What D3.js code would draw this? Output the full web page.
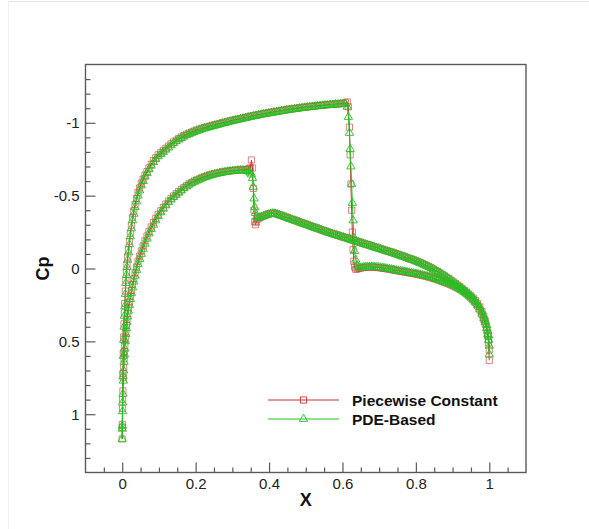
<!DOCTYPE html>
<html>
<head>
<meta charset="utf-8">
<script src="https://cdn.jsdelivr.net/npm/d3@7"></script>
<style>
  html, body { margin: 0; padding: 0; background: #ffffff; }
  svg { display: block; }
</style>
</head>
<body>
<svg id="chart" width="589" height="529"></svg>
<script>
// ---------------- DATA ----------------
const seriesNames = ["Piecewise Constant", "PDE-Based"];
const xTicks = [0, 0.2, 0.4, 0.6, 0.8, 1];
const yTicks = [-1, -0.5, 0, 0.5, 1];

// Surface A (suction side, shock near x = 0.62)
const xA = [
  0, 0.0003, 0.001, 0.002, 0.003, 0.004, 0.005, 0.006, 0.007, 0.0085,
  0.01, 0.0115, 0.013, 0.015, 0.017, 0.0195, 0.022, 0.025, 0.028, 0.0315,
  0.035, 0.039, 0.043, 0.0475, 0.052, 0.057, 0.062, 0.0675, 0.073, 0.079,
  0.085, 0.0915, 0.098, 0.105, 0.112, 0.119, 0.126, 0.133, 0.14, 0.147,
  0.154, 0.161, 0.168, 0.175, 0.182, 0.189, 0.196, 0.203, 0.21, 0.217,
  0.224, 0.231, 0.238, 0.245, 0.252, 0.259, 0.266, 0.273, 0.28, 0.287,
  0.294, 0.301, 0.308, 0.315, 0.322, 0.329, 0.336, 0.343, 0.35, 0.357,
  0.364, 0.371, 0.378, 0.385, 0.392, 0.399, 0.406, 0.413, 0.42, 0.427,
  0.434, 0.441, 0.448, 0.455, 0.462, 0.469, 0.476, 0.483, 0.49, 0.497,
  0.504, 0.511, 0.518, 0.525, 0.532, 0.539, 0.546, 0.553, 0.56, 0.567,
  0.574, 0.581, 0.588, 0.595, 0.602, 0.608, 0.613, 0.616, 0.619, 0.621,
  0.623, 0.625, 0.627, 0.629, 0.631, 0.633, 0.636, 0.64, 0.645, 0.65,
  0.656, 0.662, 0.668, 0.674, 0.68, 0.686, 0.692, 0.698, 0.704, 0.71,
  0.716, 0.722, 0.728, 0.734, 0.74, 0.746, 0.752, 0.758, 0.764, 0.77,
  0.776, 0.782, 0.788, 0.794, 0.80, 0.806, 0.812, 0.818, 0.824, 0.83,
  0.836, 0.842, 0.848, 0.854, 0.86, 0.866, 0.872, 0.878, 0.884, 0.89,
  0.896, 0.902, 0.908, 0.914, 0.92, 0.926, 0.932, 0.938, 0.944, 0.95,
  0.956, 0.962, 0.968, 0.974, 0.98, 0.985, 0.989, 0.993, 0.996, 0.998,
  1.0];
const cpA_pwc = [
  1.17, 1.07, 0.90, 0.72, 0.58, 0.47, 0.38, 0.305, 0.24, 0.155,
  0.08, 0.025, -0.03, -0.08, -0.13, -0.185, -0.24, -0.295, -0.35, -0.395,
  -0.44, -0.48, -0.52, -0.553, -0.585, -0.613, -0.64, -0.665, -0.69, -0.715,
  -0.74, -0.76, -0.78, -0.795, -0.81, -0.825, -0.84, -0.855, -0.868, -0.88,
  -0.892, -0.902, -0.912, -0.921, -0.929, -0.936, -0.943, -0.95, -0.956, -0.962,
  -0.967, -0.972, -0.977, -0.982, -0.986, -0.991, -0.995, -1.0, -1.004, -1.009,
  -1.013, -1.018, -1.021, -1.025, -1.029, -1.033, -1.037, -1.041, -1.045, -1.049,
  -1.052, -1.056, -1.059, -1.063, -1.066, -1.069, -1.072, -1.075, -1.078, -1.081,
  -1.084, -1.087, -1.09, -1.093, -1.095, -1.098, -1.1, -1.103, -1.105, -1.107,
  -1.109, -1.111, -1.113, -1.115, -1.117, -1.119, -1.121, -1.123, -1.124, -1.126,
  -1.127, -1.129, -1.13, -1.131, -1.133, -1.137, -1.143, -1.11, -0.97, -0.78,
  -0.58, -0.40, -0.25, -0.13, -0.05, -0.01, 0.005, 0.003, 0.0, -0.003,
  -0.006, -0.008, -0.01, -0.01, -0.01, -0.009, -0.008, -0.006, -0.004, -0.002,
  0.0, 0.003, 0.005, 0.008, 0.011, 0.014, 0.017, 0.019, 0.022, 0.024,
  0.027, 0.03, 0.032, 0.035, 0.038, 0.041, 0.044, 0.048, 0.051, 0.055,
  0.059, 0.063, 0.068, 0.073, 0.078, 0.083, 0.089, 0.094, 0.1, 0.106,
  0.112, 0.119, 0.126, 0.134, 0.143, 0.152, 0.162, 0.174, 0.187, 0.201,
  0.216, 0.234, 0.256, 0.282, 0.315, 0.347, 0.38, 0.42, 0.465, 0.51,
  0.63];
const cpA_pde = [
  1.17, 1.08, 0.92, 0.74, 0.60, 0.49, 0.40, 0.325, 0.26, 0.175,
  0.10, 0.045, -0.01, -0.06, -0.11, -0.165, -0.22, -0.275, -0.33, -0.375,
  -0.42, -0.46, -0.50, -0.535, -0.57, -0.60, -0.63, -0.655, -0.68, -0.705,
  -0.73, -0.75, -0.77, -0.785, -0.80, -0.815, -0.83, -0.845, -0.86, -0.873,
  -0.885, -0.895, -0.905, -0.914, -0.922, -0.93, -0.937, -0.944, -0.95, -0.956,
  -0.961, -0.966, -0.971, -0.976, -0.98, -0.985, -0.99, -0.995, -0.999, -1.004,
  -1.008, -1.013, -1.017, -1.021, -1.025, -1.029, -1.033, -1.037, -1.041, -1.045,
  -1.048, -1.052, -1.055, -1.059, -1.062, -1.065, -1.068, -1.071, -1.074, -1.077,
  -1.08, -1.083, -1.086, -1.089, -1.091, -1.094, -1.096, -1.099, -1.101, -1.104,
  -1.106, -1.108, -1.11, -1.112, -1.114, -1.116, -1.118, -1.12, -1.121, -1.123,
  -1.124, -1.126, -1.127, -1.128, -1.129, -1.13, -1.11, -1.04, -0.93, -0.82,
  -0.70, -0.58, -0.45, -0.33, -0.21, -0.12, -0.06, -0.02, -0.005, -0.005,
  -0.008, -0.01, -0.012, -0.012, -0.012, -0.011, -0.01, -0.008, -0.006, -0.004,
  -0.002, 0.001, 0.003, 0.006, 0.009, 0.012, 0.015, 0.017, 0.02, 0.022,
  0.025, 0.028, 0.03, 0.033, 0.036, 0.039, 0.042, 0.046, 0.049, 0.053,
  0.057, 0.061, 0.066, 0.071, 0.076, 0.081, 0.087, 0.092, 0.098, 0.104,
  0.11, 0.117, 0.124, 0.132, 0.141, 0.15, 0.16, 0.172, 0.184, 0.198,
  0.213, 0.231, 0.252, 0.277, 0.31, 0.34, 0.37, 0.41, 0.45, 0.49,
  0.59];

// Surface B (second branch, shock near x = 0.36)
const xB = [
  0, 0.0003, 0.001, 0.002, 0.003, 0.004, 0.005, 0.006, 0.007, 0.0085,
  0.01, 0.0115, 0.013, 0.015, 0.017, 0.0195, 0.022, 0.025, 0.028, 0.0315,
  0.035, 0.039, 0.043, 0.0475, 0.052, 0.057, 0.062, 0.0675, 0.073, 0.079,
  0.085, 0.0915, 0.098, 0.105, 0.112, 0.119, 0.126, 0.133, 0.14, 0.147,
  0.154, 0.161, 0.168, 0.175, 0.182, 0.189, 0.196, 0.203, 0.21, 0.217,
  0.224, 0.231, 0.238, 0.245, 0.252, 0.259, 0.266, 0.273, 0.28, 0.287,
  0.294, 0.301, 0.308, 0.315, 0.322, 0.329, 0.336, 0.341, 0.345, 0.349,
  0.352, 0.355, 0.357, 0.359, 0.361, 0.363, 0.366, 0.37, 0.375, 0.38,
  0.386, 0.392, 0.398, 0.404, 0.41, 0.416, 0.422, 0.428, 0.434, 0.44,
  0.446, 0.452, 0.458, 0.464, 0.47, 0.476, 0.482, 0.488, 0.494, 0.50,
  0.506, 0.512, 0.518, 0.524, 0.53, 0.536, 0.542, 0.548, 0.554, 0.56,
  0.566, 0.572, 0.578, 0.584, 0.59, 0.596, 0.602, 0.608, 0.614, 0.62,
  0.626, 0.632, 0.638, 0.644, 0.65, 0.656, 0.662, 0.668, 0.674, 0.68,
  0.686, 0.692, 0.698, 0.704, 0.71, 0.716, 0.722, 0.728, 0.734, 0.74,
  0.746, 0.752, 0.758, 0.764, 0.77, 0.776, 0.782, 0.788, 0.794, 0.80,
  0.806, 0.812, 0.818, 0.824, 0.83, 0.836, 0.842, 0.848, 0.854, 0.86,
  0.866, 0.872, 0.878, 0.884, 0.89, 0.896, 0.902, 0.908, 0.914, 0.92,
  0.926, 0.932, 0.938, 0.944, 0.95, 0.956, 0.962, 0.968, 0.974, 0.98,
  0.985, 0.989, 0.993, 0.996, 0.998, 1.0];
const cpB_pwc = [
  1.17, 1.09, 0.96, 0.84, 0.75, 0.68, 0.62, 0.57, 0.53, 0.48,
  0.43, 0.39, 0.35, 0.31, 0.27, 0.23, 0.19, 0.15, 0.11, 0.07,
  0.03, -0.01, -0.05, -0.085, -0.12, -0.155, -0.19, -0.223, -0.255, -0.285,
  -0.315, -0.344, -0.372, -0.396, -0.42, -0.442, -0.463, -0.481, -0.498, -0.513,
  -0.528, -0.542, -0.556, -0.568, -0.58, -0.59, -0.6, -0.608, -0.615, -0.623,
  -0.63, -0.636, -0.642, -0.647, -0.651, -0.655, -0.659, -0.662, -0.665, -0.668,
  -0.67, -0.672, -0.674, -0.676, -0.677, -0.678, -0.678, -0.68, -0.684, -0.69,
  -0.745, -0.69, -0.55, -0.40, -0.32, -0.30, -0.32, -0.34, -0.35, -0.357,
  -0.362, -0.368, -0.373, -0.377, -0.38, -0.379, -0.374, -0.369, -0.364, -0.358,
  -0.353, -0.347, -0.342, -0.336, -0.331, -0.326, -0.32, -0.315, -0.309, -0.304,
  -0.299, -0.293, -0.288, -0.282, -0.277, -0.272, -0.266, -0.261, -0.255, -0.25,
  -0.245, -0.24, -0.235, -0.231, -0.226, -0.221, -0.216, -0.212, -0.207, -0.202,
  -0.197, -0.192, -0.188, -0.183, -0.178, -0.173, -0.168, -0.164, -0.159, -0.154,
  -0.149, -0.144, -0.14, -0.135, -0.13, -0.125, -0.12, -0.116, -0.111, -0.106,
  -0.101, -0.096, -0.09, -0.085, -0.08, -0.074, -0.069, -0.063, -0.058, -0.052,
  -0.046, -0.04, -0.033, -0.026, -0.019, -0.012, -0.004, 0.004, 0.013, 0.022,
  0.031, 0.04, 0.05, 0.06, 0.07, 0.081, 0.092, 0.103, 0.114, 0.125,
  0.137, 0.149, 0.162, 0.175, 0.188, 0.203, 0.22, 0.24, 0.264, 0.295,
  0.327, 0.36, 0.4, 0.445, 0.49, 0.56];
const cpB_pde = [
  1.17, 1.1, 0.98, 0.86, 0.77, 0.70, 0.64, 0.59, 0.55, 0.50,
  0.45, 0.41, 0.37, 0.33, 0.29, 0.25, 0.21, 0.17, 0.13, 0.09,
  0.05, 0.01, -0.03, -0.065, -0.1, -0.135, -0.17, -0.205, -0.24, -0.27,
  -0.30, -0.33, -0.36, -0.385, -0.41, -0.433, -0.455, -0.473, -0.49, -0.505,
  -0.52, -0.535, -0.55, -0.563, -0.575, -0.585, -0.595, -0.603, -0.61, -0.618,
  -0.625, -0.631, -0.637, -0.642, -0.647, -0.651, -0.655, -0.659, -0.662, -0.665,
  -0.667, -0.669, -0.671, -0.673, -0.674, -0.674, -0.672, -0.669, -0.665, -0.657,
  -0.645, -0.62, -0.56, -0.48, -0.42, -0.38, -0.355, -0.345, -0.35, -0.355,
  -0.36, -0.366, -0.371, -0.375, -0.378, -0.377, -0.372, -0.367, -0.362, -0.356,
  -0.351, -0.345, -0.34, -0.334, -0.329, -0.324, -0.318, -0.313, -0.307, -0.302,
  -0.297, -0.291, -0.286, -0.28, -0.275, -0.27, -0.264, -0.259, -0.253, -0.248,
  -0.243, -0.238, -0.233, -0.229, -0.224, -0.219, -0.214, -0.21, -0.205, -0.2,
  -0.195, -0.19, -0.186, -0.181, -0.176, -0.171, -0.166, -0.162, -0.157, -0.152,
  -0.147, -0.142, -0.138, -0.133, -0.128, -0.123, -0.118, -0.114, -0.109, -0.104,
  -0.099, -0.094, -0.088, -0.083, -0.078, -0.072, -0.067, -0.061, -0.056, -0.05,
  -0.044, -0.038, -0.031, -0.024, -0.017, -0.01, -0.002, 0.006, 0.015, 0.024,
  0.033, 0.042, 0.052, 0.062, 0.072, 0.083, 0.094, 0.105, 0.116, 0.127,
  0.139, 0.151, 0.164, 0.177, 0.19, 0.205, 0.222, 0.241, 0.265, 0.295,
  0.325, 0.355, 0.39, 0.43, 0.46, 0.53];

// ---------------- DRAWING ----------------
const svg = d3.select("#chart");
const FONT = "'Liberation Sans', Arial, Helvetica, sans-serif";
const red = "#d03030", green = "#22c322";

// faint outer border (top and left)
svg.append("line").attr("x1", 8).attr("y1", 1.5).attr("x2", 589).attr("y2", 1.5)
  .attr("stroke", "#e4e4e4").attr("stroke-width", 1);
svg.append("line").attr("x1", 8.5).attr("y1", 1.5).attr("x2", 8.5).attr("y2", 529)
  .attr("stroke", "#f0f0f0").attr("stroke-width", 1);

const L = 85.5, R = 526, T = 64.5, B = 472.5;
const x = d3.scaleLinear().domain([-0.1, 1.1]).range([L, R]);
const y = d3.scaleLinear().domain([-1.4, 1.4]).range([T, B]);

const fmt = d => String(Math.round(d * 100) / 100);

svg.append("defs").append("clipPath").attr("id", "clip")
  .append("rect").attr("x", L).attr("y", T).attr("width", R - L).attr("height", B - T);

// one polyline per series: branch B from trailing edge to leading edge, then branch A to trailing edge
function buildSeries(cpA, cpB) {
  const pts = [];
  const nB = Math.min(xB.length, cpB.length), nA = Math.min(xA.length, cpA.length);
  for (let i = nB - 1; i >= 0; i--) pts.push([xB[i], cpB[i]]);
  for (let i = 1; i < nA; i++) pts.push([xA[i], cpA[i]]);
  return pts;
}
const series = [
  { name: seriesNames[0], color: red, sym: d3.symbolSquare, size: 38, sw: 0.8, op: 0.75, pts: buildSeries(cpA_pwc, cpB_pwc) },
  { name: seriesNames[1], color: green, sym: d3.symbolTriangle, size: 30, sw: 0.9, op: 1, pts: buildSeries(cpA_pde, cpB_pde) }
];

const line = d3.line().x(d => x(d[0])).y(d => y(d[1]));
const plot = svg.append("g").attr("clip-path", "url(#clip)");

series.forEach(s => {
  const g = plot.append("g");
  g.append("path").datum(s.pts).attr("d", line)
    .attr("fill", "none").attr("stroke", s.color).attr("stroke-width", 1);
  g.selectAll("path.m").data(s.pts).enter().append("path").attr("class", "m")
    .attr("d", d3.symbol().type(s.sym).size(s.size))
    .attr("transform", d => `translate(${x(d[0])},${y(d[1])})`)
    .attr("fill", "none").attr("stroke", s.color).attr("stroke-width", s.sw)
    .attr("stroke-opacity", s.op);
});

// axes (ticks inward)
const axisColor = "#5a5a5a";
const minorX = d3.range(-0.05, 1.1, 0.05).map(v => Math.round(v * 100) / 100).filter(v => !xTicks.includes(v));
const minorY = d3.range(-1.3, 1.35, 0.1).map(v => Math.round(v * 10) / 10).filter(v => !yTicks.includes(v));

const gx = svg.append("g").attr("transform", `translate(0,${B})`)
  .call(d3.axisBottom(x).tickValues(xTicks).tickSize(-10).tickPadding(6).tickFormat(fmt));
const gxm = svg.append("g").attr("transform", `translate(0,${B})`)
  .call(d3.axisBottom(x).tickValues(minorX).tickSize(-5).tickFormat(""));
const gy = svg.append("g").attr("transform", `translate(${L},0)`)
  .call(d3.axisLeft(y).tickValues(yTicks).tickSize(-10).tickPadding(6).tickFormat(fmt));
const gym = svg.append("g").attr("transform", `translate(${L},0)`)
  .call(d3.axisLeft(y).tickValues(minorY).tickSize(-5).tickFormat(""));

[gx, gxm, gy, gym].forEach(g => {
  g.select(".domain").remove();
  g.selectAll("line").attr("stroke", axisColor).attr("stroke-width", 1.2);
  g.selectAll("text").attr("font-family", FONT).attr("font-size", 15).attr("fill", "#222");
});
gx.selectAll("text").attr("dy", "0").attr("y", 16.5);

// frame
svg.append("rect").attr("x", L).attr("y", T).attr("width", R - L).attr("height", B - T)
  .attr("fill", "none").attr("stroke", axisColor).attr("stroke-width", 1.4);

// axis titles
svg.append("text").attr("x", (L + R) / 2).attr("y", 506).attr("text-anchor", "middle")
  .attr("font-family", FONT).attr("font-weight", "bold").attr("font-size", 18).attr("fill", "#111")
  .text("X");
svg.append("text").attr("transform", `translate(49,${(T + B) / 2}) rotate(-90)`)
  .attr("text-anchor", "middle")
  .attr("font-family", FONT).attr("font-weight", "bold").attr("font-size", 18).attr("fill", "#111")
  .text("Cp");

// legend
const leg = svg.append("g");
series.forEach((s, i) => {
  const ly = 400 + i * 19;
  leg.append("line").attr("x1", 268).attr("x2", 339).attr("y1", ly).attr("y2", ly)
    .attr("stroke", s.color).attr("stroke-width", 1);
  leg.append("path").attr("d", d3.symbol().type(s.sym).size(s.size)())
    .attr("transform", `translate(303.5,${ly})`)
    .attr("fill", "none").attr("stroke", s.color).attr("stroke-width", 0.9);
  leg.append("text").attr("x", 352).attr("y", ly + 5.5)
    .attr("font-family", FONT).attr("font-weight", "bold").attr("font-size", 15.5).attr("fill", "#111")
    .text(s.name);
});
</script>
</body>
</html>
